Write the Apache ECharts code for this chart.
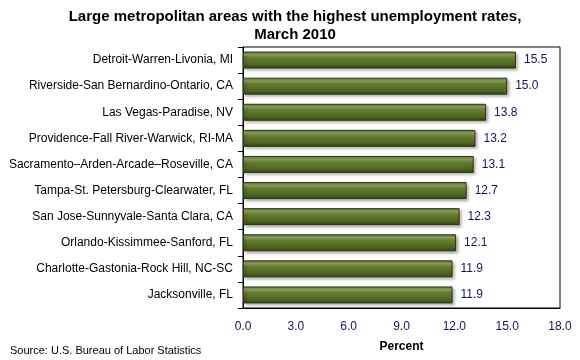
<!DOCTYPE html>
<html><head><meta charset="utf-8">
<script src="https://cdn.jsdelivr.net/npm/echarts@6/dist/echarts.min.js"></script>
<style>html,body{margin:0;padding:0;background:#fff}#c{width:580px;height:360px}</style>
</head><body><div id="c"></div>
<script>
const categories = ["Detroit-Warren-Livonia, MI","Riverside-San Bernardino-Ontario, CA","Las Vegas-Paradise, NV","Providence-Fall River-Warwick, RI-MA","Sacramento\u2013Arden-Arcade\u2013Roseville, CA","Tampa-St. Petersburg-Clearwater, FL","San Jose-Sunnyvale-Santa Clara, CA","Orlando-Kissimmee-Sanford, FL","Charlotte-Gastonia-Rock Hill, NC-SC","Jacksonville, FL"];
const values = [15.5,15.0,13.8,13.2,13.1,12.7,12.3,12.1,11.9,11.9];
const xTicks = [0,3,6,9,12,15,18];

const chart = echarts.init(document.getElementById('c'));
const font = 'Liberation Sans, Arial, sans-serif';
chart.setOption({
  animation:false,
  title:{text:'Large metropolitan areas with the highest unemployment rates,\nMarch 2010',left:290,textAlign:'center',top:3,
    textStyle:{fontFamily:font,fontSize:15,fontWeight:'bold',color:'#000',lineHeight:18}},
  graphic:[{type:'text',left:10,top:345,style:{text:'Source: U.S. Bureau of Labor Statistics',font:'11px '+font,fill:'#000'}}],
  grid:{left:243,right:20,top:47,bottom:52,show:true,borderColor:'#000',borderWidth:1},
  xAxis:{type:'value',min:xTicks[0],max:xTicks[xTicks.length-1],interval:3,
    name:'Percent',nameLocation:'middle',nameGap:33,nameTextStyle:{fontFamily:font,fontSize:12,fontWeight:'bold',color:'#000'},
    axisLine:{show:true,lineStyle:{color:'#000'}},axisTick:{show:false},splitLine:{show:false},
    axisLabel:{formatter:v=>v.toFixed(1),fontFamily:font,fontSize:12,color:'#14145a',margin:13}},
  yAxis:{type:'category',data:categories,inverse:true,
    axisLine:{show:true,lineStyle:{color:'#000'}},axisTick:{show:true,length:5,lineStyle:{color:'#000'}},
    axisLabel:{fontFamily:font,fontSize:12,color:'#000',margin:10}},
  series:[{type:'bar',data:values,barWidth:17,
    itemStyle:{color:new echarts.graphic.LinearGradient(0,0,0,1,[
      {offset:0,color:'#5f7530'},{offset:0.18,color:'#95ab60'},{offset:0.35,color:'#677f32'},{offset:0.75,color:'#506525'},{offset:1,color:'#36451a'}]),
      borderColor:'#2c3814',borderWidth:1,shadowColor:'rgba(0,0,0,0.35)',shadowBlur:3,shadowOffsetX:2,shadowOffsetY:2},
    label:{show:true,position:'right',distance:8,formatter:p=>p.value.toFixed(1),fontFamily:font,fontSize:12,color:'#14145a'}}]
});
</script></body></html>
